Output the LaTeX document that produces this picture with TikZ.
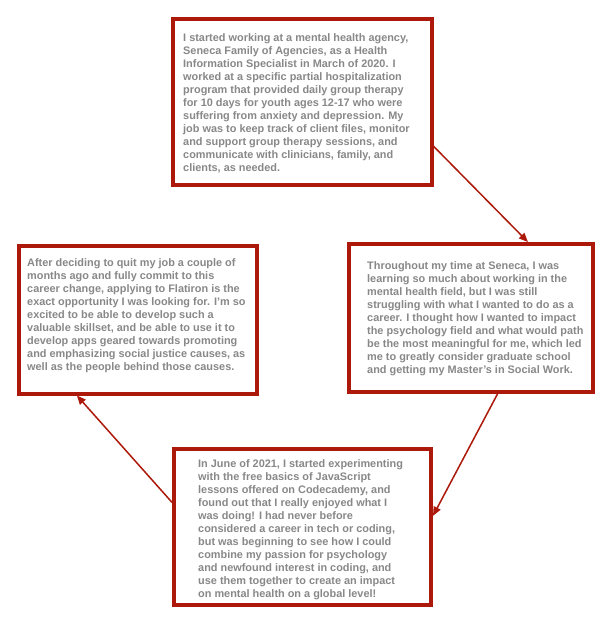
\documentclass[tikz,border=0pt]{standalone}
\usepackage{fontspec}
\setmainfont{Liberation Sans}
\usetikzlibrary{arrows.meta,calc}
\definecolor{boxred}{RGB}{172,24,10}
\definecolor{txtgray}{RGB}{136,136,136}
\tikzset{
  panel/.style={draw=boxred, line width=4pt, fill=white, inner sep=0pt, rectangle},
  story/.style={anchor=north west, inner sep=0pt, align=left, text=txtgray,
    font=\bfseries\fontsize{10.9}{13}\selectfont},
  flow/.style={draw=boxred, line width=1.5pt, -{Triangle[length=9pt,width=7.5pt]}}
}
\begin{document}
\begin{tikzpicture}[x=1pt,y=-1pt]
\useasboundingbox (0,0) rectangle (604,620);
% boxes
\node[panel, minimum width=258.5pt, minimum height=166pt] (b1) at (302.25,102) {};
\node[panel, minimum width=243.5pt, minimum height=148pt] (b2) at (470.75,318) {};
\node[panel, minimum width=237.5pt, minimum height=148pt] (b3) at (137.75,319.5) {};
\node[panel, minimum width=257pt, minimum height=156pt] (b4) at (302.5,527) {};
% texts
\node[story] (t1) at (183,33) {I started working at a mental health agency,\\
Seneca Family of Agencies, as a Health\\
Information Specialist in March of 2020. I\\
worked at a specific partial hospitalization\\
program that provided daily group therapy\\
for 10 days for youth ages 12-17 who were\\
suffering from anxiety and depression. My\\
job was to keep track of client files, monitor\\
and support group therapy sessions, and\\
communicate with clinicians, family, and\\
clients, as needed.};
\node[story] (t2) at (367,261) {Throughout my time at Seneca, I was\\
learning so much about working in the\\
mental health field, but I was still\\
struggling with what I wanted to do as a\\
career. I thought how I wanted to impact\\
the psychology field and what would path\\
be the most meaningful for me, which led\\
me to greatly consider graduate school\\
and getting my Master’s in Social Work.};
\node[story] (t3) at (27,258) {After deciding to quit my job a couple of\\
months ago and fully commit to this\\
career change, applying to Flatiron is the\\
exact opportunity I was looking for. I’m so\\
excited to be able to develop such a\\
valuable skillset, and be able to use it to\\
develop apps geared towards promoting\\
and emphasizing social justice causes, as\\
well as the people behind those causes.};
\node[story] (t4) at (198,459) {In June of 2021, I started experimenting\\
with the free basics of JavaScript\\
lessons offered on Codecademy, and\\
found out that I really enjoyed what I\\
was doing! I had never before\\
considered a career in tech or coding,\\
but was beginning to see how I could\\
combine my passion for psychology\\
and newfound interest in coding, and\\
use them together to create an impact\\
on mental health on a global level!};
% connectors
\draw[flow] ($(b1.north east)!0.76!(b1.south east)$) -- ($(b2.north west)!0.731!(b2.north east)$);
\draw[flow] ($(b2.south west)!0.608!(b2.south east)$) -- ($(b4.north east)!0.43!(b4.south east)$);
\draw[flow] ($(b4.north west)!0.346!(b4.south west)$) -- ($(b3.south west)!0.248!(b3.south east)$);
\end{tikzpicture}
\end{document}
